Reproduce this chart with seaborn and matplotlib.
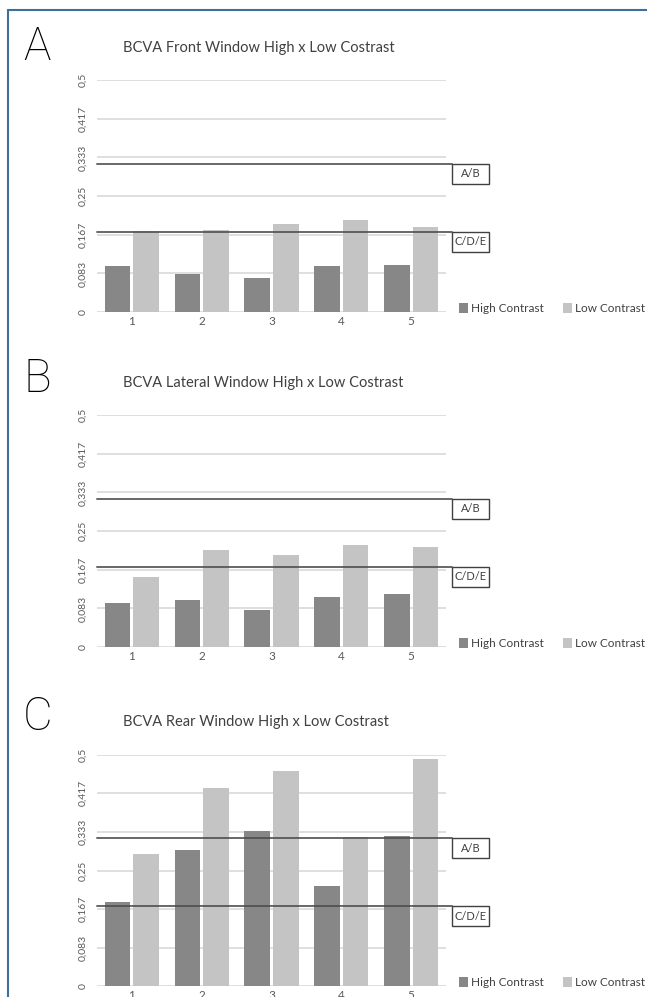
import matplotlib
matplotlib.use("Agg")
import matplotlib.pyplot as plt
import matplotlib.transforms as mtransforms
from matplotlib.patches import Rectangle, Patch
import seaborn as sns
import pandas as pd

# ---- data ----
categories = ["1", "2", "3", "4", "5"]
series_names = ["High Contrast", "Low Contrast"]

front_high = [0.099, 0.081, 0.073, 0.099, 0.101]
front_low = [0.174, 0.176, 0.189, 0.198, 0.183]

lateral_high = [0.094, 0.101, 0.079, 0.107, 0.114]
lateral_low = [0.151, 0.209, 0.198, 0.220, 0.215]

rear_high = [0.182, 0.294, 0.335, 0.216, 0.324]
rear_low = [0.285, 0.428, 0.465, 0.322, 0.491]

panel_letters = ["A", "B", "C"]
panel_titles = [
    "BCVA Front Window High x Low Costrast",
    "BCVA Lateral Window High x Low Costrast",
    "BCVA Rear Window High x Low Costrast",
]

ref_values = [0.320, 0.173]
ref_labels = ["A/B", "C/D/E"]

y_ticks = [0, 0.083, 0.167, 0.25, 0.333, 0.417, 0.5]
y_tick_labels = ["0", "0,083", "0,167", "0,25", "0,333", "0,417", "0,5"]

panels = [(front_high, front_low), (lateral_high, lateral_low), (rear_high, rear_low)]

# ---- style ----
sns.set_theme(style="white")
plt.rcParams["font.family"] = ["Lato", "DejaVu Sans"]

W, H = 647, 997
fig = plt.figure(figsize=(W / 100, H / 100), dpi=100)

colors = ["#878787", "#c4c4c4"]
grid_c = "#d9d9d9"
text_c = "#595959"

# axes geometry in pixels (left, right, top of 0.5, bottom at 0)
ax_left, ax_right = 97, 446
ax_tops = [80, 415, 755]
ax_bots = [312, 647, 986]
letter_base = [60, 392, 730]
title_y = [48, 383, 722]

# border
fig.add_artist(plt.Line2D([8 / W, 8 / W], [0, 1 - 10 / H], color="#3f6d9c", lw=1.5))
fig.add_artist(plt.Line2D([8 / W, 1], [1 - 10 / H, 1 - 10 / H], color="#3f6d9c", lw=1.5))

for i, (hi, lo) in enumerate(panels):
    l = ax_left / W
    b = 1 - ax_bots[i] / H
    w = (ax_right - ax_left) / W
    h = (ax_bots[i] - ax_tops[i]) / H
    ax = fig.add_axes([l, b, w, h])

    df = pd.DataFrame({
        "cat": categories * 2,
        "series": [series_names[0]] * len(categories) + [series_names[1]] * len(categories),
        "value": list(hi) + list(lo),
    })
    sns.barplot(data=df, x="cat", y="value", hue="series", palette=colors,
                width=0.82, gap=0.1, ax=ax, legend=False, saturation=1,
                edgecolor="none", zorder=2)

    ax.set_ylim(0, 0.5)
    ax.set_xlim(-0.5, len(categories) - 0.5)
    ax.set_yticks(y_ticks)
    ax.set_yticklabels(y_tick_labels, rotation=90, va="center", fontsize=7.5, color=text_c)
    ax.tick_params(axis="both", length=0)
    ax.tick_params(axis="y", pad=7)
    ax.tick_params(axis="x", pad=3, labelsize=8.5, labelcolor=text_c)
    ax.set_xlabel("")
    ax.set_ylabel("")
    for s in ax.spines.values():
        s.set_visible(False)
    ax.yaxis.grid(True, color=grid_c, lw=1.2, zorder=0)
    ax.set_axisbelow(True)

    # reference lines and labelled boxes
    trans = mtransforms.blended_transform_factory(ax.transAxes, ax.transData)
    box_x0 = (452 - ax_left) / (ax_right - ax_left)
    box_w = 37 / (ax_right - ax_left)
    box_h = 20 * 0.5 / (ax_bots[i] - ax_tops[i])
    for val, lab in zip(ref_values, ref_labels):
        ax.plot([0, box_x0], [val, val], transform=trans, color="#4d4d4d",
                lw=1.4, alpha=0.85, clip_on=False, zorder=5)
        ax.add_patch(Rectangle((box_x0, val - box_h), box_w, box_h, transform=trans,
                               facecolor="white", edgecolor="#404040", lw=1.0,
                               clip_on=False, zorder=6))
        ax.text(box_x0 + box_w / 2, val - box_h / 2, lab, transform=trans,
                ha="center", va="center", fontsize=8, color="#404040", zorder=7)

    # legend
    handles = [Patch(facecolor=c, edgecolor="none") for c in colors]
    ax.legend(handles, series_names, loc="lower left",
              bbox_to_anchor=((459 - ax_left) / (ax_right - ax_left), -0.01),
              bbox_transform=ax.transAxes, ncol=2, frameon=False, borderpad=0,
              borderaxespad=0, handlelength=0.75, handleheight=0.9, handletextpad=0.3,
              columnspacing=1.6, fontsize=8.5, labelcolor="#404040")

    # panel letter and title
    fig.text(23 / W, 1 - letter_base[i] / H, panel_letters[i], fontsize=33,
             family=["Roboto", "Lato", "DejaVu Sans"], fontweight="light",
             color="black", ha="left", va="baseline")
    fig.text(123 / W, 1 - title_y[i] / H, panel_titles[i], fontsize=10.5,
             color="#404040", ha="left", va="center")

fig.savefig("out.png", dpi=100)
